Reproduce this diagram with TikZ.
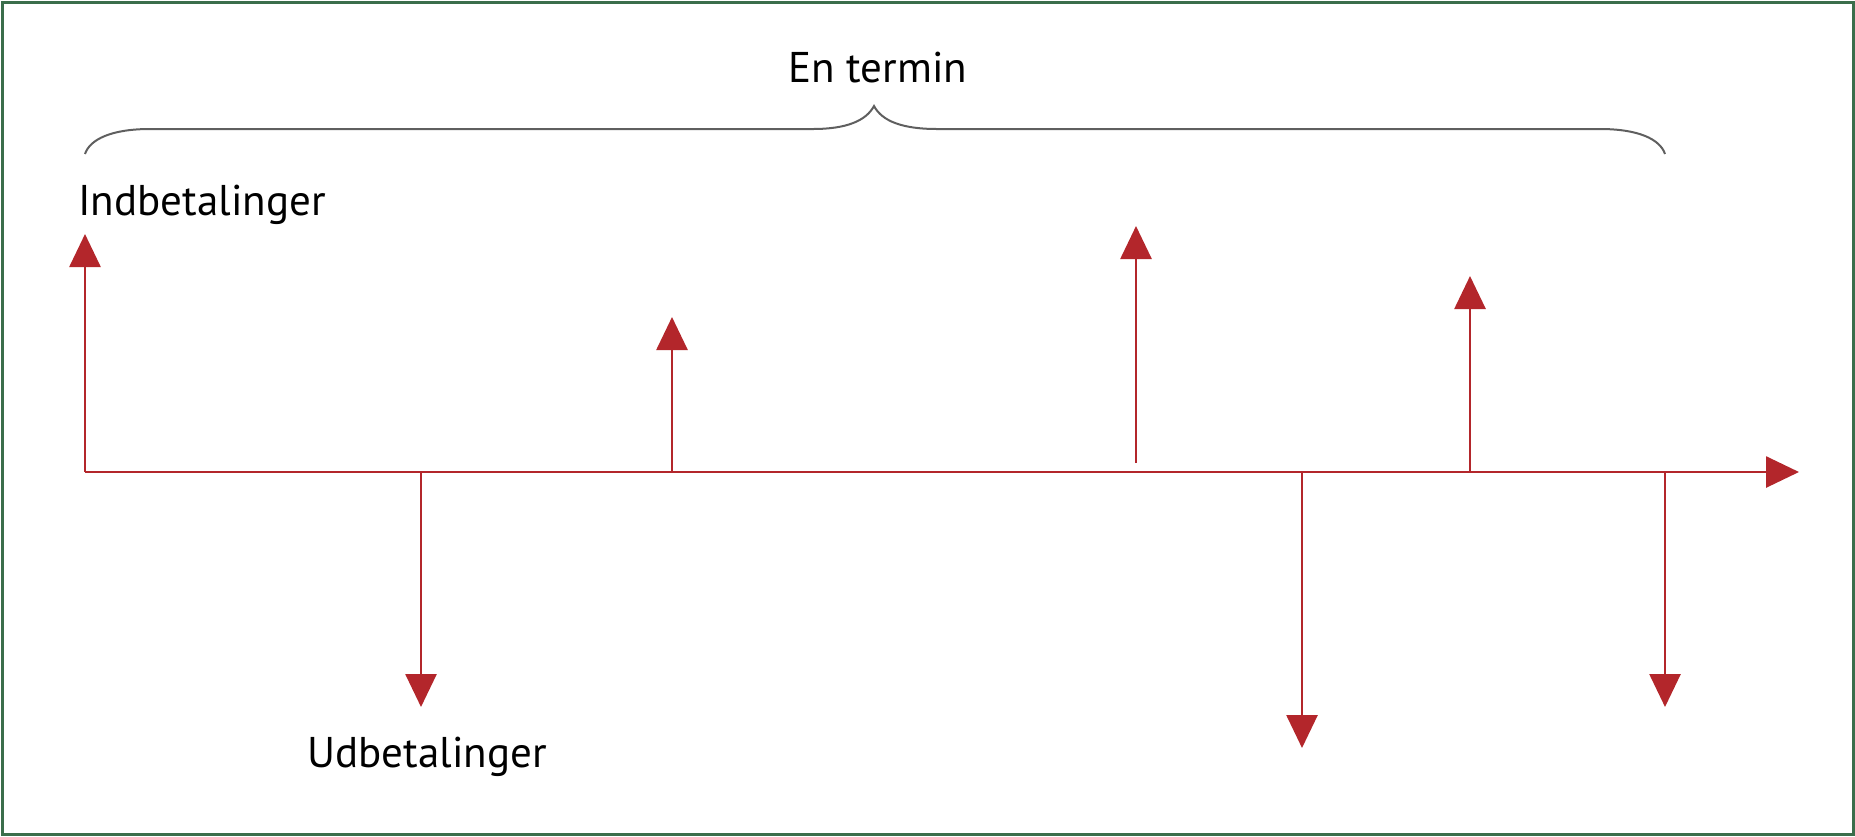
\documentclass[tikz,border=0pt]{standalone}
\usepackage{fontspec}
\setmainfont{PT Sans}
\usetikzlibrary{arrows.meta}
\definecolor{flowred}{RGB}{179,38,43}
\definecolor{framegreen}{RGB}{59,110,75}
\definecolor{bracegray}{RGB}{95,95,95}
\begin{document}
\begin{tikzpicture}[x=0.5pt,y=-0.5pt,
    flow/.style={draw=flowred,line width=1.35pt,-{Triangle[length=16.5pt,width=15.5pt]},flowred},
    lbl/.style={inner sep=0pt,anchor=base west,font=\fontsize{21.5}{26}\selectfont},
    brace/.style={draw=bracegray,line width=1pt}]
    \useasboundingbox (0,0) rectangle (1855,836);
    \draw[framegreen,line width=1.5pt] (2,2) rectangle (1853,834);
    \coordinate (o) at (85,472);
    \coordinate (end) at (1799,472);
    \coordinate (in1) at (85,234);
    \coordinate (out1base) at (421,472);
    \coordinate (out1) at (421,707);
    \coordinate (in2base) at (672,472);
    \coordinate (in2) at (672,317);
    \coordinate (in3base) at (1136,463);
    \coordinate (in3) at (1136,226);
    \coordinate (out2base) at (1302,472);
    \coordinate (out2) at (1302,748);
    \coordinate (in4base) at (1470,472);
    \coordinate (in4) at (1470,276);
    \coordinate (out3base) at (1665,472);
    \coordinate (out3) at (1665,707);
    \draw[flow] (o) -- (end);
    \draw[flow] (o) -- (in1);
    \draw[flow] (out1base) -- (out1);
    \draw[flow] (in2base) -- (in2);
    \draw[flow] (in3base) -- (in3);
    \draw[flow] (out2base) -- (out2);
    \draw[flow] (in4base) -- (in4);
    \draw[flow] (out3base) -- (out3);
    \draw[brace] (85,154) .. controls (90,139) and (112,129) .. (150,129) -- (813,129)
        .. controls (846,129) and (866,121) .. (874,106)
        .. controls (882,121) and (902,129) .. (937,129) -- (1600,129)
        .. controls (1638,129) and (1660,139) .. (1665,154);
    \node[lbl,anchor=base] (termin) at (878,82) {En termin};
    \node[lbl] (ind) at (78,215) {Indbetalinger};
    \node[lbl] (ud) at (307,767) {Udbetalinger};
\end{tikzpicture}
\end{document}
